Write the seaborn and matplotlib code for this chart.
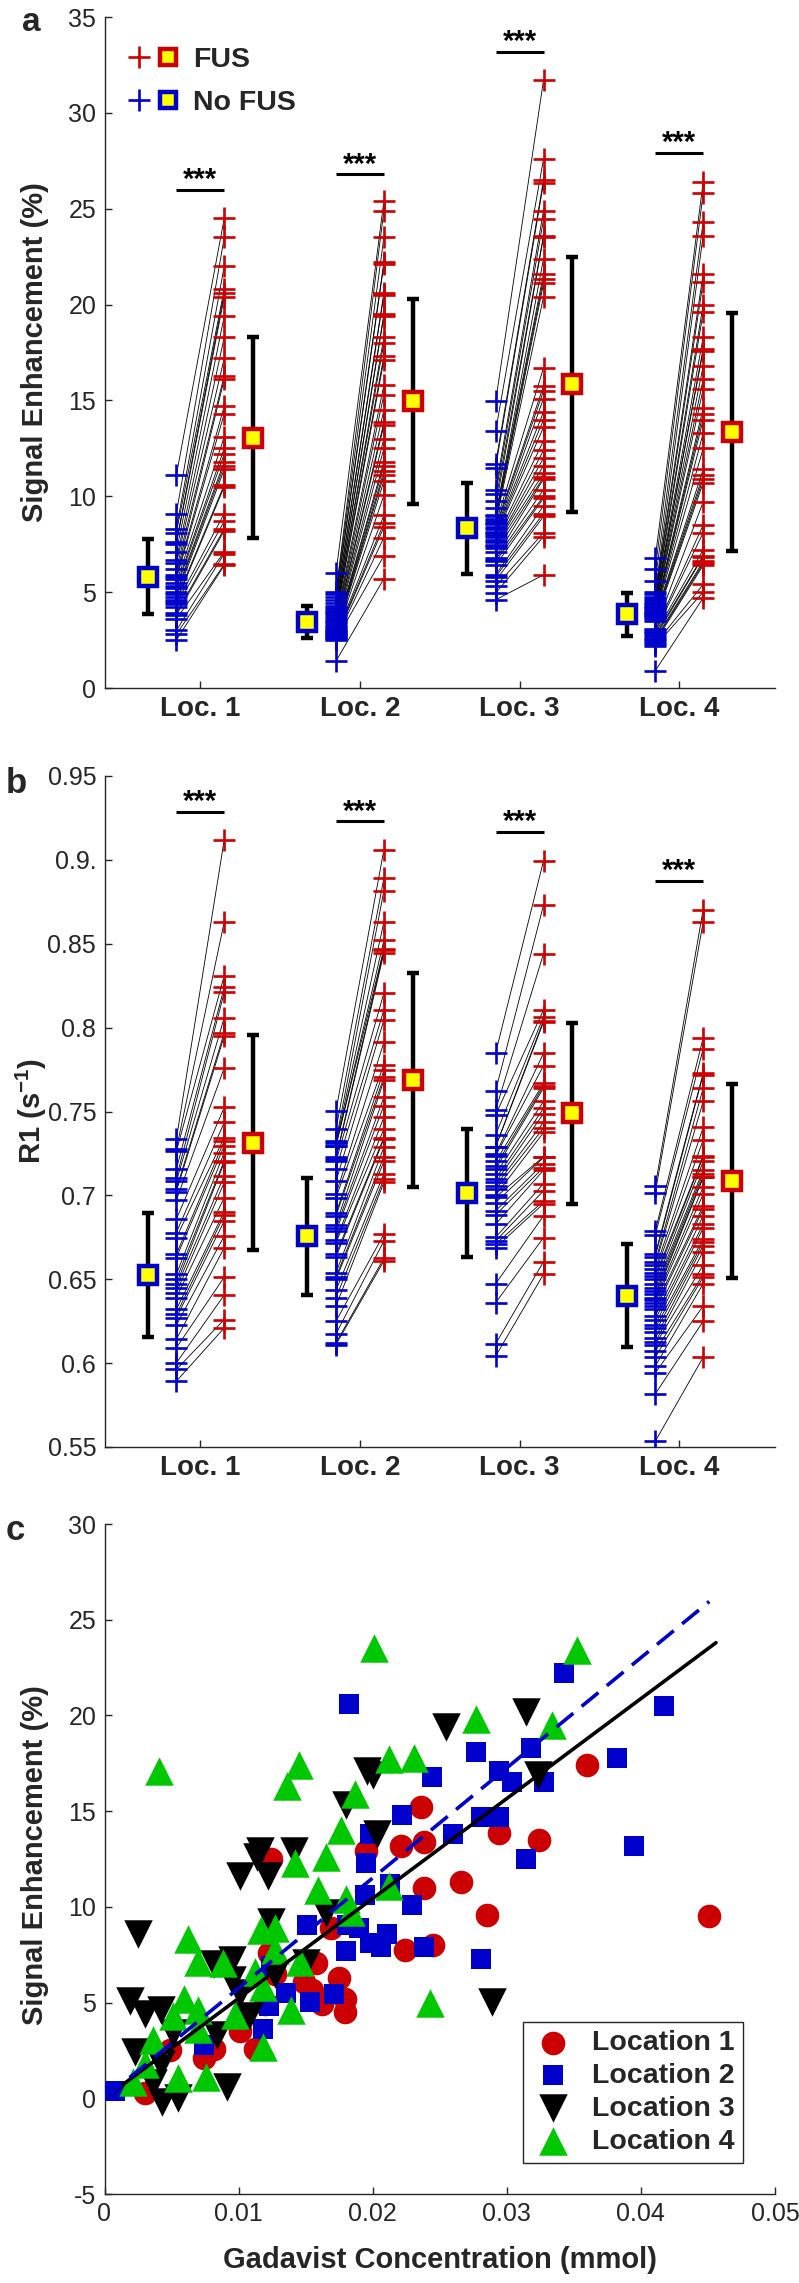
import matplotlib
matplotlib.use("Agg")
import matplotlib.pyplot as plt
import seaborn as sns
import pandas as pd
from matplotlib.lines import Line2D
from matplotlib.legend_handler import HandlerTuple

sns.set_style("ticks")
plt.rcParams['font.family'] = ['Liberation Sans', 'DejaVu Sans']
plt.rcParams['mathtext.fontset'] = 'custom'
plt.rcParams['mathtext.rm'] = 'Liberation Sans'
plt.rcParams['mathtext.bf'] = 'Liberation Sans:bold'

RED = '#cc0000'
BLUE = '#0000cc'
GREEN = '#00c800'
YEL = '#ffff00'
DARK = '#262626'

loc_labels = ['Loc. 1', 'Loc. 2', 'Loc. 3', 'Loc. 4']

# ---------------- panel a: signal enhancement (%) ----------------
a_nofus_loc1 = [11.1, 9.1, 8.3, 8.1, 7.6, 7.5, 7.1, 6.7, 6.5, 6.2, 5.9, 5.8, 5.7, 5.5, 5.3, 5.2, 5.0, 4.9, 4.75,
                4.6, 4.5, 4.4, 4.2, 3.9, 3.8, 3.6, 3.0, 2.8, 2.5]
a_fus_loc1 = [24.5, 23.5, 22.0, 20.8, 20.6, 20.4, 19.4, 18.3, 17.2, 16.3, 16.1, 14.7, 14.3, 13.1, 12.5, 12.2, 11.8,
              11.6, 11.4, 10.6, 10.5, 9.1, 8.7, 8.3, 8.2, 7.1, 7.0, 6.45, 6.4]
a_nofus_loc2 = [6.0, 5.0, 4.9, 4.75, 4.6, 4.45, 4.3, 4.15, 4.05, 3.95, 3.9, 3.8, 3.7, 3.6, 3.5, 3.45, 3.35, 3.25,
                3.2, 3.1, 3.0, 2.95, 2.9, 2.85, 2.8, 2.75, 2.7, 2.65, 2.6, 2.55, 2.5, 1.4]
a_fus_loc2 = [25.4, 24.9, 23.5, 22.2, 22.1, 20.6, 20.5, 19.5, 19.4, 18.3, 18.0, 17.3, 17.1, 15.8, 15.3, 14.5, 13.85,
              13.7, 13.0, 12.5, 11.8, 11.6, 11.3, 11.1, 10.8, 10.05, 9.0, 8.6, 8.4, 7.85, 6.9, 5.7]
a_nofus_loc3 = [14.95, 13.4, 11.7, 11.5, 10.35, 10.1, 9.75, 9.4, 9.0, 8.95, 8.8, 8.7, 8.6, 8.55, 8.4, 8.3, 8.15,
                8.1, 8.0, 7.9, 7.7, 7.6, 7.45, 7.4, 7.3, 7.1, 6.8, 6.7, 6.6, 6.4, 5.9, 5.8, 5.6, 5.3, 4.95, 4.6]
a_fus_loc3 = [31.7, 27.6, 26.5, 26.35, 24.9, 24.45, 23.6, 23.55, 22.4, 21.6, 21.35, 21.1, 20.4, 16.7, 15.75, 15.5,
              15.1, 14.4, 14.0, 13.6, 12.9, 12.4, 12.0, 11.6, 11.2, 11.0, 10.9, 10.35, 10.0, 9.9, 9.5, 9.1, 8.95,
              8.1, 7.9, 5.9]
a_nofus_loc4 = [6.8, 6.2, 5.6, 5.0, 4.9, 4.75, 4.65, 4.55, 4.45, 4.37, 4.3, 4.2, 4.15, 4.1, 4.0, 3.95, 3.9, 3.85,
                3.8, 3.75, 3.7, 3.6, 3.5, 3.1, 3.0, 2.92, 2.85, 2.75, 2.66, 2.55, 2.48, 2.4, 2.3, 2.2, 0.9]
a_fus_loc4 = [26.4, 25.8, 24.3, 23.6, 21.6, 21.2, 20.0, 19.6, 18.3, 17.7, 17.6, 16.8, 16.1, 15.6, 14.6, 14.3, 14.0,
              13.3, 12.5, 11.4, 11.1, 10.9, 10.7, 9.7, 8.5, 8.1, 7.2, 6.9, 6.85, 6.6, 6.5, 6.4, 5.4, 5.0, 4.7]
a_mean_nofus = [5.8, 3.45, 8.33, 3.85]
a_sd_nofus = [1.95, 0.85, 2.37, 1.12]
a_mean_fus = [13.05, 14.95, 15.85, 13.36]
a_sd_fus = [5.25, 5.35, 6.65, 6.2]
a_sig_y = [26.0, 26.8, 33.2, 27.9]
a_yticks = [0, 5, 10, 15, 20, 25, 30, 35]

# ---------------- panel b: R1 (1/s) ----------------
b_nofus_loc1 = [0.7335, 0.7275, 0.7262, 0.7156, 0.7103, 0.7083, 0.7037, 0.7023, 0.6971, 0.6858, 0.6778, 0.6748,
                0.6649, 0.6629, 0.6529, 0.650, 0.647, 0.645, 0.642, 0.639, 0.632, 0.629, 0.627, 0.6226, 0.6141,
                0.6091, 0.6001, 0.5962, 0.5892]
b_fus_loc1 = [0.912, 0.863, 0.831, 0.824, 0.821, 0.806, 0.797, 0.795, 0.776, 0.7525, 0.7435, 0.7345, 0.7325,
              0.7295, 0.7255, 0.7206, 0.7196, 0.7117, 0.7077, 0.6987, 0.6903, 0.6883, 0.6847, 0.6758, 0.6688,
              0.6513, 0.6406, 0.626, 0.621]
b_nofus_loc2 = [0.7505, 0.7395, 0.7325, 0.731, 0.7295, 0.7296, 0.7226, 0.7216, 0.7202, 0.7156, 0.7083, 0.7007,
                0.6987, 0.6892, 0.6878, 0.6825, 0.6805, 0.6785, 0.6733, 0.6719, 0.6649, 0.6633, 0.6539, 0.6513,
                0.65, 0.6435, 0.639, 0.634, 0.625, 0.6174, 0.6121, 0.6111]
b_fus_loc2 = [0.906, 0.889, 0.8815, 0.863, 0.852, 0.847, 0.846, 0.8445, 0.8206, 0.8106, 0.8046, 0.7913, 0.778,
              0.7745, 0.7705, 0.7685, 0.7585, 0.7535, 0.7465, 0.7395, 0.7345, 0.7335, 0.7286, 0.723, 0.7202,
              0.7127, 0.7097, 0.7077, 0.6768, 0.6728, 0.6625, 0.6609]
b_nofus_loc3 = [0.7849, 0.7624, 0.7509, 0.748, 0.7361, 0.729, 0.7289, 0.7245, 0.7236, 0.7202, 0.7176, 0.7157,
                0.7127, 0.71, 0.7077, 0.7057, 0.7037, 0.700, 0.699, 0.6957, 0.6908, 0.6884, 0.6828, 0.675,
                0.6728, 0.6709, 0.6688, 0.6473, 0.636, 0.6115, 0.6041]
b_fus_loc3 = [0.8994, 0.873, 0.8441, 0.8106, 0.8066, 0.8042, 0.8032, 0.7847, 0.7773, 0.7668, 0.7654, 0.764,
              0.756, 0.7518, 0.7488, 0.7435, 0.7401, 0.7375, 0.723, 0.7226, 0.719, 0.7166, 0.715, 0.707, 0.7027,
              0.6967, 0.6951, 0.6878, 0.6748, 0.6605, 0.653]
b_nofus_loc4 = [0.7057, 0.7017, 0.6788, 0.6764, 0.6649, 0.6635, 0.66, 0.6585, 0.656, 0.654, 0.652, 0.650, 0.647,
                0.645, 0.643, 0.641, 0.639, 0.6375, 0.636, 0.634, 0.632, 0.628, 0.626, 0.623, 0.621, 0.6185,
                0.615, 0.6125, 0.611, 0.607, 0.6035, 0.5982, 0.5942, 0.5816, 0.5534]
b_fus_loc4 = [0.8704, 0.863, 0.7939, 0.7874, 0.7728, 0.772, 0.764, 0.756, 0.7405, 0.733, 0.7236, 0.723, 0.7202,
              0.715, 0.713, 0.711, 0.7107, 0.705, 0.7007, 0.6937, 0.6918, 0.6878, 0.6828, 0.6805, 0.674, 0.672,
              0.67, 0.6665, 0.6585, 0.653, 0.6513, 0.6474, 0.634, 0.625, 0.6035]
b_mean_nofus = [0.6525, 0.6755, 0.7015, 0.6403]
b_sd_nofus = [0.037, 0.035, 0.038, 0.0305]
b_mean_fus = [0.7315, 0.7687, 0.749, 0.7085]
b_sd_fus = [0.064, 0.064, 0.054, 0.058]
b_sig_y = [0.9286, 0.923, 0.9166, 0.8875]
b_yticks = [0.55, 0.6, 0.65, 0.7, 0.75, 0.8, 0.85, 0.9, 0.95]
b_yticklabels = ['0.55', '0.6', '0.65', '0.7', '0.75', '0.8', '0.85', '0.9.', '0.95']

# ---------------- panel c: SE vs Gadavist concentration ----------------
c_loc1_x = [0.036, 0.0236, 0.0294, 0.0324, 0.0221, 0.0238, 0.0195, 0.0451, 0.0285, 0.0266, 0.0238, 0.0124,
            0.0169, 0.0224, 0.0245, 0.0175, 0.0158, 0.0149, 0.0155, 0.0162, 0.0179, 0.0179, 0.0123, 0.0127,
            0.0120, 0.0101, 0.0112, 0.0082, 0.0074, 0.0049, 0.003]
c_loc1_y = [17.4, 15.2, 13.85, 13.5, 13.2, 13.4, 12.9, 9.5, 9.6, 11.3, 11.0, 12.5, 8.9, 7.75, 8.0, 6.3, 7.05,
            6.1, 5.65, 4.9, 5.2, 4.5, 7.6, 6.5, 4.9, 3.5, 2.6, 2.6, 2.1, 2.5, 0.26]
c_loc2_x = [0.01825, 0.0343, 0.0417, 0.0277, 0.0318, 0.0382, 0.0294, 0.0244, 0.0304, 0.0328, 0.0222, 0.0281,
            0.0294, 0.026, 0.0198, 0.0395, 0.0314, 0.0195, 0.0213, 0.0194, 0.0229, 0.0151, 0.0181, 0.019,
            0.0211, 0.0198, 0.0206, 0.0238, 0.018, 0.0281, 0.0124, 0.0135, 0.0171, 0.0153, 0.0123, 0.0118,
            0.0074, 0.0008]
c_loc2_y = [20.6, 22.2, 20.5, 18.1, 18.3, 17.8, 17.1, 16.8, 16.5, 16.5, 14.8, 14.7, 14.7, 13.8, 13.8, 13.2,
            12.5, 12.3, 11.2, 10.6, 10.1, 9.06, 9.06, 8.9, 8.6, 8.1, 7.9, 7.9, 7.67, 7.3, 6.9, 5.5, 5.45, 5.05,
            4.8, 3.6, 2.8, 0.4]
c_loc3_x = [0.0314, 0.0255, 0.0196, 0.0200, 0.0323, 0.018, 0.0203, 0.0116, 0.0141, 0.0101, 0.0122, 0.0114,
            0.0165, 0.0124, 0.0025, 0.0082, 0.0095, 0.015, 0.0127, 0.0095, 0.0019, 0.0030, 0.0042, 0.0101,
            0.0108, 0.0051, 0.0084, 0.0023, 0.0042, 0.0036, 0.0091, 0.0043, 0.0055, 0.0289]
c_loc3_y = [20.2, 19.4, 17.1, 16.9, 16.9, 15.3, 13.8, 12.9, 12.9, 11.6, 11.6, 12.6, 9.7, 9.2, 8.6, 7.0, 7.2,
            7.05, 6.5, 6.2, 5.1, 4.4, 4.6, 5.5, 4.3, 3.4, 3.3, 2.4, 1.8, 0.8, 0.6, -0.2, 0.0, 5.05]
c_loc4_x = [0.0041, 0.0201, 0.0352, 0.0277, 0.0334, 0.0145, 0.0136, 0.0212, 0.0231, 0.0187, 0.0176, 0.0142,
            0.0165, 0.0159, 0.0212, 0.0180, 0.0184, 0.0117, 0.0127, 0.0062, 0.0070, 0.0088, 0.0127, 0.0146,
            0.0112, 0.0118, 0.0059, 0.0070, 0.0051, 0.0097, 0.0139, 0.0070, 0.0036, 0.0030, 0.0021, 0.0055,
            0.0076, 0.0118, 0.0243]
c_loc4_y = [17.1, 23.5, 23.4, 19.8, 19.5, 17.4, 16.3, 17.7, 17.8, 15.9, 14.0, 12.3, 12.6, 10.9, 11.1, 10.4,
            9.75, 8.8, 8.9, 8.3, 7.1, 7.06, 7.75, 7.1, 6.6, 5.8, 5.2, 4.6, 4.3, 4.35, 4.6, 3.6, 3.05, 1.8, 0.87,
            1.05, 1.13, 2.7, 4.97]
fit_all_x = [0.0, 0.0456]
fit_all_y = [0.0, 23.8]
fit_loc2_x = [0.0, 0.0451]
fit_loc2_y = [0.0, 25.95]
c_xticks = [0, 0.01, 0.02, 0.03, 0.04, 0.05]
c_xticklabels = ['0', '0.01', '0.02', '0.03', '0.04', '0.05']
c_yticks = [-5, 0, 5, 10, 15, 20, 25, 30]

# ---------------- figure ----------------
W, H = 799, 2283
fig = plt.figure(figsize=(W / 100, H / 100), dpi=100)


def rect(l, t, r, b):
    return [l / W, 1 - b / H, (r - l) / W, (b - t) / H]


axA = fig.add_axes(rect(104.5, 17, 775, 688))
axB = fig.add_axes(rect(104.5, 776, 775, 1447))
axC = fig.add_axes(rect(104.5, 1524, 775, 2194))

TICK_FS = 18
LOC_FS = 20
LAB_FS = 21


def style_axes(ax):
    for s in ['top', 'right']:
        ax.spines[s].set_visible(False)
    for s in ['left', 'bottom']:
        ax.spines[s].set_color(DARK)
        ax.spines[s].set_linewidth(1.0)
    ax.tick_params(direction='in', length=5, width=1.0, color=DARK, labelcolor=DARK,
                   labelsize=TICK_FS, pad=6)


def paired_panel(ax, nofus, fus, mean_n, sd_n, mean_f, sd_f, sig_y, star_off):
    for i in range(4):
        c = i + 1
        xn, xf = c - 0.15, c + 0.15
        for a, b in zip(nofus[i], fus[i]):
            ax.plot([xn, xf], [a, b], color='black', lw=0.6, zorder=2)
        ax.plot([xn] * len(nofus[i]), nofus[i], ls='none', marker='+', ms=16, mew=1.9,
                color=BLUE, zorder=3)
        ax.plot([xf] * len(fus[i]), fus[i], ls='none', marker='+', ms=16, mew=1.9,
                color=RED, zorder=3)
        for xm, m, sd, ec in [(c - 0.33, mean_n[i], sd_n[i], BLUE), (c + 0.33, mean_f[i], sd_f[i], RED)]:
            ax.errorbar(xm, m, yerr=sd, fmt='none', ecolor='black', elinewidth=3.2, capsize=4,
                        capthick=3.2, zorder=4)
            ax.plot(xm, m, marker='s', ms=13, mfc=YEL, mec=ec, mew=3.2, zorder=5)
        ax.plot([xn, xf], [sig_y[i], sig_y[i]], color='black', lw=2.2, solid_capstyle='butt', zorder=5)
        ax.annotate('***', (c, sig_y[i]), xytext=(0, star_off), textcoords='offset points',
                    ha='center', va='center', fontsize=21, fontweight='bold', color='black')
    ax.set_xlim(0.4, 4.6)
    ax.set_xticks([1, 2, 3, 4])
    ax.set_xticklabels(loc_labels, fontsize=LOC_FS, fontweight='bold', color=DARK)


# panel a
style_axes(axA)
paired_panel(axA, [a_nofus_loc1, a_nofus_loc2, a_nofus_loc3, a_nofus_loc4],
             [a_fus_loc1, a_fus_loc2, a_fus_loc3, a_fus_loc4],
             a_mean_nofus, a_sd_nofus, a_mean_fus, a_sd_fus, a_sig_y, 7)
axA.set_ylim(0, 35)
axA.set_yticks(a_yticks)
axA.set_yticklabels([str(v) for v in a_yticks])
axA.set_ylabel('Signal Enhancement (%)', fontsize=LAB_FS, fontweight='bold', color=DARK)
axA.yaxis.set_label_coords(-0.083, 0.5)

h_fus = (Line2D([], [], ls='none', marker='+', ms=16, mew=1.9, color=RED),
         Line2D([], [], ls='none', marker='s', ms=12, mfc=YEL, mec=RED, mew=3.2))
h_nofus = (Line2D([], [], ls='none', marker='+', ms=16, mew=1.9, color=BLUE),
           Line2D([], [], ls='none', marker='s', ms=12, mfc=YEL, mec=BLUE, mew=3.2))
legA = axA.legend([h_fus, h_nofus], ['FUS', 'No FUS'],
                  handler_map={tuple: HandlerTuple(ndivide=None, pad=0.25)},
                  loc='upper left', bbox_to_anchor=(0.035, 0.955), frameon=False,
                  prop={'size': 20.5, 'weight': 'bold'}, handlelength=1.8, handletextpad=0.5,
                  labelspacing=0.6, borderpad=0, borderaxespad=0)
for t in legA.get_texts():
    t.set_color(DARK)

# panel b
style_axes(axB)
paired_panel(axB, [b_nofus_loc1, b_nofus_loc2, b_nofus_loc3, b_nofus_loc4],
             [b_fus_loc1, b_fus_loc2, b_fus_loc3, b_fus_loc4],
             b_mean_nofus, b_sd_nofus, b_mean_fus, b_sd_fus, b_sig_y, 7)
axB.set_ylim(0.55, 0.95)
axB.set_yticks(b_yticks)
axB.set_yticklabels(b_yticklabels)
axB.set_ylabel(r'R1 (s$^{\mathbf{-1}}$)', fontsize=LAB_FS, fontweight='bold', color=DARK)
axB.yaxis.set_label_coords(-0.083, 0.5)

# panel c
style_axes(axC)
sns.scatterplot(x=c_loc1_x, y=c_loc1_y, ax=axC, marker='o', s=17 ** 2, color=RED, linewidth=0,
                label='Location 1', zorder=3)
sns.scatterplot(x=c_loc2_x, y=c_loc2_y, ax=axC, marker='s', s=14.5 ** 2, color=BLUE, linewidth=0,
                label='Location 2', zorder=3)
sns.scatterplot(x=c_loc3_x, y=c_loc3_y, ax=axC, marker='v', s=20.5 ** 2, color='black', linewidth=0,
                label='Location 3', zorder=3)
sns.scatterplot(x=c_loc4_x, y=c_loc4_y, ax=axC, marker='^', s=20.5 ** 2, color=GREEN, linewidth=0,
                label='Location 4', zorder=3)
sns.lineplot(x=fit_all_x, y=fit_all_y, ax=axC, color='black', lw=2.6, zorder=4)
sns.lineplot(x=fit_loc2_x, y=fit_loc2_y, ax=axC, color=BLUE, lw=2.6, zorder=4)
axC.lines[-1].set_dashes((6, 3))
axC.set_xlim(0, 0.05)
axC.set_ylim(-5, 30)
axC.set_xticks(c_xticks)
axC.set_xticklabels(c_xticklabels)
axC.set_yticks(c_yticks)
axC.set_yticklabels([str(v) for v in c_yticks])
axC.set_xlabel('Gadavist Concentration (mmol)', fontsize=LAB_FS, fontweight='bold', color=DARK,
               labelpad=14)
axC.set_ylabel('Signal Enhancement (%)', fontsize=LAB_FS, fontweight='bold', color=DARK)
axC.yaxis.set_label_coords(-0.083, 0.506)
handles, labels = axC.get_legend_handles_labels()
legC = axC.legend(handles[:4], labels[:4], loc='lower right', bbox_to_anchor=(0.952, 0.046),
                  borderaxespad=0, frameon=True, fancybox=False, prop={'size': 20.5, 'weight': 'bold'},
                  handletextpad=0.6, labelspacing=0.24, borderpad=0.3, handlelength=1.5)
legC.get_frame().set_edgecolor(DARK)
legC.get_frame().set_linewidth(1.0)
legC.get_frame().set_alpha(1)
for t in legC.get_texts():
    t.set_color(DARK)

# panel letters
fig.text(22 / W, 1 - 31 / H, 'a', fontsize=24, fontweight='bold', ha='left', va='baseline')
fig.text(6 / W, 1 - 793 / H, 'b', fontsize=25, fontweight='bold', ha='left', va='baseline')
fig.text(6 / W, 1 - 1540 / H, 'c', fontsize=25, fontweight='bold', ha='left', va='baseline')

fig.savefig('out.png', dpi=100)
